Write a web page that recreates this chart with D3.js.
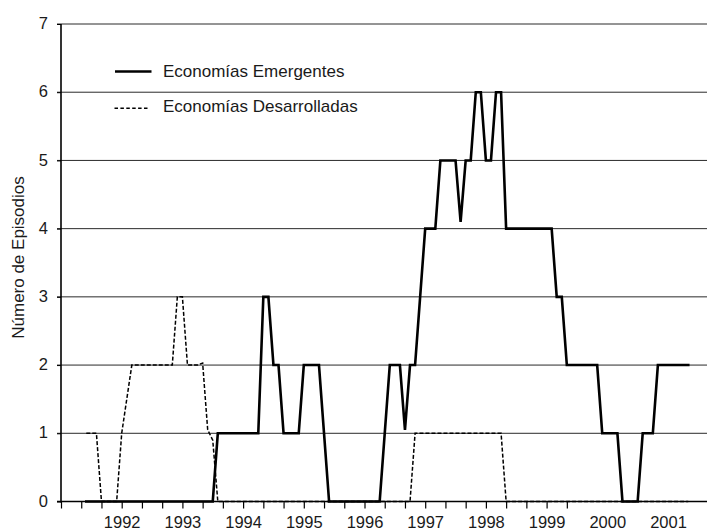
<!DOCTYPE html>
<html>
<head>
<meta charset="utf-8">
<script src="https://cdn.jsdelivr.net/npm/d3@7"></script>
<style>
  html, body { margin: 0; padding: 0; background: #fff; }
  svg { display: block; }
  text { font-family: "Liberation Sans", Arial, Helvetica, sans-serif; fill: #1a1a1a; }
</style>
</head>
<body>
<script>
// Monthly number of episodes; month index 0 = January 1991, series start June 1991
const firstMonth = 5;

const emergentes = [
  0, 0, 0, 0, 0, 0, 0, 0, 0, 0, 0, 0, 0, 0, 0, 0, 0, 0, 0, 0, 0, 0, 0, 0, 0, 0,   // Jun 1991 - Jul 1993
  1, 1, 1, 1, 1, 1, 1, 1, 1,                                                      // Aug 1993 - Apr 1994
  3, 3, 2, 2, 1, 1, 1, 1, 2, 2, 2, 2, 1,                                          // May 1994 - May 1995
  0, 0, 0, 0, 0, 0, 0, 0, 0, 0, 0,                                                // Jun 1995 - Apr 1996
  1, 2, 2, 2, 1.05, 2, 2, 3,                                                      // May 1996 - Dec 1996
  4, 4, 4, 5, 5, 5, 5, 4.1, 5, 5, 6, 6, 5, 5, 6, 6,                               // Jan 1997 - Apr 1998
  4, 4, 4, 4, 4, 4, 4, 4, 4, 4, 3, 3,                                             // May 1998 - Apr 1999
  2, 2, 2, 2, 2, 2, 2, 1, 1, 1, 1, 0, 0, 0, 0, 1, 1, 1,                           // May 1999 - Oct 2000
  2, 2, 2, 2, 2, 2, 2                                                             // Nov 2000 - May 2001
];

const desarrolladas = [
  1, 1, 1, 0, 0, 0, 0, 1, 1.5,                                                    // Jun 1991 - Feb 1992
  2, 2, 2, 2, 2, 2, 2, 2, 2, 3, 3, 2, 2, 2, 2.03, 1.05, 0.9,                      // Mar 1992 - Jul 1993
  0, 0, 0, 0, 0, 0, 0, 0, 0, 0, 0, 0, 0, 0, 0, 0, 0, 0, 0, 0,                     // Aug 1993 - Mar 1995
  0, 0, 0, 0, 0, 0, 0, 0, 0, 0, 0, 0, 0, 0, 0, 0, 0, 0, 0,                        // Apr 1995 - Oct 1996
  1, 1, 1, 1, 1, 1, 1, 1, 1, 1, 1, 1, 1, 1, 1, 1, 1, 1,                           // Nov 1996 - Apr 1998
  0, 0, 0, 0, 0, 0, 0, 0, 0, 0, 0, 0, 0, 0, 0, 0, 0, 0, 0, 0,                     // May 1998 - Dec 1999
  0, 0, 0, 0, 0, 0, 0, 0, 0, 0, 0, 0, 0, 0, 0, 0, 0                               // Jan 2000 - May 2001
];

const yearLabels = ["1992", "1993", "1994", "1995", "1996", "1997", "1998", "1999", "2000", "2001"];
const yTickValues = [0, 1, 2, 3, 4, 5, 6, 7];
const seriesNames = ["Economías Emergentes", "Economías Desarrolladas"];
const yTitle = "Número de Episodios";

const W = 707, H = 531;
const svg = d3.select("body").append("svg").attr("width", W).attr("height", H);

// month index -> x, count -> y
const x = d3.scaleLinear().domain([0, 120]).range([61, 668]);
const y = d3.scaleLinear().domain([0, 7]).range([501.5, 24]);

// horizontal grid lines with short ticks left of the axis
svg.append("g").selectAll("line").data(yTickValues.slice(1)).join("line")
  .attr("x1", 57).attr("x2", W)
  .attr("y1", d => y(d)).attr("y2", d => y(d))
  .attr("stroke", "#2a2a2a").attr("stroke-width", 1);

// y tick labels
const yAxis = d3.axisLeft(y).tickValues(yTickValues).tickSize(4).tickPadding(9)
  .tickFormat(d3.format("d"));
const gy = svg.append("g").attr("transform", "translate(61,0)").call(yAxis);
gy.select(".domain").remove();
gy.selectAll(".tick line").attr("stroke", "#000");
gy.selectAll(".tick text")
  .attr("font-size", 16.5).attr("font-family", null).attr("fill", "#1a1a1a")
  .attr("dy", "0.28em");

// y axis line
svg.append("line")
  .attr("x1", 61).attr("x2", 61).attr("y1", y(7)).attr("y2", y(0) + 1)
  .attr("stroke", "#000").attr("stroke-width", 1.6);

// x axis: minor ticks every four months
const xMinor = d3.axisBottom(x).tickValues(d3.range(0, 101, 4)).tickSize(7).tickFormat("");
const gx = svg.append("g").attr("transform", `translate(0,${y(0)})`).call(xMinor);
gx.select(".domain").remove();
gx.selectAll(".tick line").attr("stroke", "#000").attr("stroke-width", 1.2);

// x axis: year labels
const yearMonths = yearLabels.map(d => (+d - 1991) * 12);
const xYears = d3.axisBottom(x).tickValues(yearMonths).tickSize(0).tickPadding(0)
  .tickFormat((d, i) => yearLabels[i]);
const gl = svg.append("g").attr("transform", "translate(0,527.5)").call(xYears);
gl.select(".domain").remove();
gl.selectAll(".tick text")
  .attr("font-size", 16.5).attr("font-family", null).attr("fill", "#1a1a1a")
  .attr("dy", 0).attr("y", 0);

// x axis line
svg.append("line")
  .attr("x1", 57).attr("x2", W).attr("y1", y(0)).attr("y2", y(0))
  .attr("stroke", "#000").attr("stroke-width", 1.6);

const line = d3.line()
  .x((d, i) => x(firstMonth + i))
  .y(d => y(d));

// developed economies (dashed), drawn underneath
svg.append("path")
  .datum(desarrolladas)
  .attr("d", line)
  .attr("fill", "none")
  .attr("stroke", "#000")
  .attr("stroke-width", 1.5)
  .attr("stroke-dasharray", "4,2");

// emerging economies (solid)
svg.append("path")
  .datum(emergentes)
  .attr("d", line)
  .attr("fill", "none")
  .attr("stroke", "#000")
  .attr("stroke-width", 2.6)
  .attr("stroke-linecap", "square");

// legend
const legend = svg.append("g");
legend.append("line")
  .attr("x1", 115).attr("x2", 151.5).attr("y1", 71.5).attr("y2", 71.5)
  .attr("stroke", "#000").attr("stroke-width", 2.6);
legend.append("line")
  .attr("x1", 114.5).attr("x2", 149).attr("y1", 108.3).attr("y2", 108.3)
  .attr("stroke", "#000").attr("stroke-width", 1.4).attr("stroke-dasharray", "3.5,2.4");
legend.selectAll("text").data(seriesNames).join("text")
  .attr("x", 163)
  .attr("y", (d, i) => i === 0 ? 76.8 : 111.8)
  .attr("font-size", 17)
  .text(d => d);

// y axis title
svg.append("text")
  .attr("transform", "translate(23.5,257.5) rotate(-90)")
  .attr("text-anchor", "middle")
  .attr("font-size", 17)
  .text(yTitle);
</script>
</body>
</html>
